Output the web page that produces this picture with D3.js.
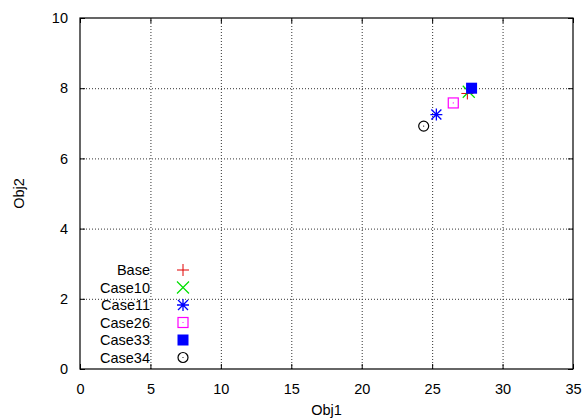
<!DOCTYPE html>
<html>
<head>
<meta charset="utf-8">
<script src="https://cdn.jsdelivr.net/npm/d3@7"></script>
<style>
  body { margin: 0; background: #fff; }
  text { font-family: "Liberation Sans", Arial, sans-serif; font-size: 14.5px; fill: #000; }
  .grid line { stroke: #333; stroke-width: 1; stroke-dasharray: 1,2; }
</style>
</head>
<body>
<div id="chart"></div>
<script>
// Series and values
const seriesNames = ["Base", "Case10", "Case11", "Case26", "Case33", "Case34"];
const obj1 = [27.5, 27.6, 25.3, 26.5, 27.8, 24.4];
const obj2 = [7.85, 7.9, 7.25, 7.58, 8.0, 6.92];
const xTicks = [0, 5, 10, 15, 20, 25, 30, 35];
const yTicks = [0, 2, 4, 6, 8, 10];

const width = 587, height = 419;
const margin = { left: 80, right: 14, top: 18, bottom: 50 };

const svg = d3.select("#chart").append("svg")
    .attr("width", width)
    .attr("height", height);

const x = d3.scaleLinear().domain([0, 35]).range([margin.left, width - margin.right]);
const y = d3.scaleLinear().domain([0, 10]).range([height - margin.bottom, margin.top]);

// Grid lines (interior only)
const grid = svg.append("g").attr("class", "grid");
grid.selectAll(".gx").data(xTicks.slice(1, -1)).enter().append("line")
    .attr("x1", d => x(d) + 0.5).attr("x2", d => x(d) + 0.5)
    .attr("y1", y(0)).attr("y2", y(10));
grid.selectAll(".gy").data(yTicks.slice(1, -1)).enter().append("line")
    .attr("x1", x(0)).attr("x2", x(35))
    .attr("y1", d => y(d) + 0.5).attr("y2", d => y(d) + 0.5);

// Axes with inward ticks
svg.append("g")
    .attr("transform", `translate(0,${y(0)})`)
    .call(d3.axisBottom(x).tickValues(xTicks).tickSizeInner(-5).tickSizeOuter(0).tickPadding(15));
svg.append("g")
    .attr("transform", `translate(${x(0)},0)`)
    .call(d3.axisLeft(y).tickValues(yTicks).tickSizeInner(-5).tickSizeOuter(0).tickPadding(12));
// mirror ticks on top and right
svg.append("g")
    .attr("transform", `translate(0,${y(10)})`)
    .call(d3.axisTop(x).tickValues(xTicks).tickSizeInner(-5).tickSizeOuter(0).tickFormat(""));
svg.append("g")
    .attr("transform", `translate(${x(35)},0)`)
    .call(d3.axisRight(y).tickValues(yTicks).tickSizeInner(-5).tickSizeOuter(0).tickFormat(""));

svg.selectAll(".domain").remove();
svg.selectAll(".tick text").style("font-size", "14.5px").style("font-family", "Liberation Sans, Arial, sans-serif");

// Frame
svg.append("rect")
    .attr("x", x(0)).attr("y", y(10))
    .attr("width", x(35) - x(0)).attr("height", y(0) - y(10))
    .attr("fill", "none").attr("stroke", "#000").attr("stroke-width", 1.2);

// Axis titles
svg.append("text")
    .attr("x", (x(0) + x(35)) / 2).attr("y", height - 4)
    .attr("text-anchor", "middle").text("Obj1");
svg.append("text")
    .attr("transform", `translate(24,${(y(0) + y(10)) / 2}) rotate(-90)`)
    .attr("text-anchor", "middle").text("Obj2");

// Marker drawing
function drawMarker(g, i) {
    if (i === 0) {
        g.append("path").attr("d", "M-6,0H6M0,-6V6").attr("stroke", "#e00000").attr("stroke-width", 1).attr("fill", "none");
    } else if (i === 1) {
        g.append("path").attr("d", "M-6,-6L6,6M-6,6L6,-6").attr("stroke", "#00e000").attr("stroke-width", 1.2).attr("fill", "none");
    } else if (i === 2) {
        g.append("path").attr("d", "M-6,0H6M0,-6V6M-5,-5L5,5M-5,5L5,-5").attr("stroke", "#0000ff").attr("stroke-width", 1.3).attr("fill", "none");
    } else if (i === 3) {
        g.append("rect").attr("x", -5).attr("y", -5).attr("width", 10).attr("height", 10)
            .attr("fill", "none").attr("stroke", "#ff00ff").attr("stroke-width", 1.2);
        g.append("circle").attr("r", 0.6).attr("fill", "#ff00ff");
    } else if (i === 4) {
        g.append("rect").attr("x", -5.5).attr("y", -5.5).attr("width", 11).attr("height", 11).attr("fill", "#0000ff");
    } else {
        g.append("circle").attr("r", 5).attr("fill", "none").attr("stroke", "#000").attr("stroke-width", 1.2);
        g.append("circle").attr("r", 0.6).attr("fill", "#000");
    }
}

// Points
seriesNames.forEach((name, i) => {
    const g = svg.append("g").attr("transform", `translate(${x(obj1[i])},${y(obj2[i])})`);
    drawMarker(g, i);
});

// Legend
const legendTop = 270, legendStep = 17.5;
seriesNames.forEach((name, i) => {
    const ly = legendTop + i * legendStep;
    svg.append("text")
        .attr("x", 150).attr("y", ly).attr("dy", "0.35em")
        .attr("text-anchor", "end").text(name);
    const g = svg.append("g").attr("transform", `translate(183,${ly})`);
    drawMarker(g, i);
});
</script>
</body>
</html>
